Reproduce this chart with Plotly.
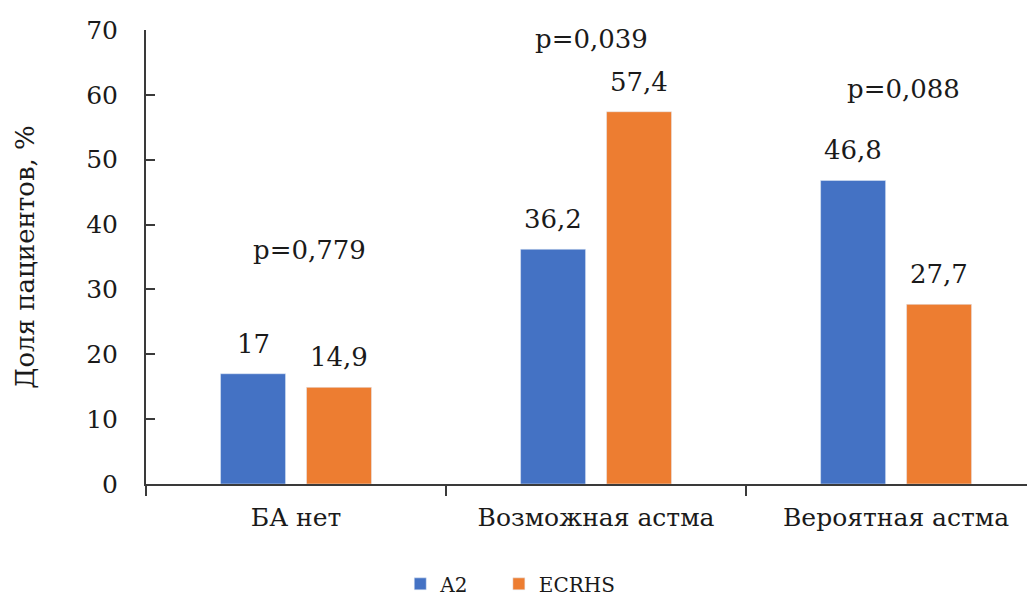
import plotly.graph_objects as go

categories = ["БА нет", "Возможная астма", "Вероятная астма"]
series_names = ["A2", "ECRHS"]
a2_values = [17, 36.2, 46.8]
ecrhs_values = [14.9, 57.4, 27.7]
a2_labels = ["17", "36,2", "46,8"]
ecrhs_labels = ["14,9", "57,4", "27,7"]
p_labels = ["p=0,779", "p=0,039", "p=0,088"]
y_ticks = [0, 10, 20, 30, 40, 50, 60, 70]

# label placement (layout, not data)
p_label_y = [34.7, 67.2, 59.5]
p_label_xshift = [13, -5, 7]

FONT = "DejaVu Serif"
TXT = "#1a1a1a"
AX = "#3a3a3a"
BLUE = "#4472C4"
ORANGE = "#ED7D31"
NBSP = "\u00a0"

fig = go.Figure()
fig.add_trace(go.Bar(name=series_names[0] + NBSP * 4, x=categories, y=a2_values, marker_color=BLUE))
fig.add_trace(go.Bar(name=series_names[1], x=categories, y=ecrhs_values, marker_color=ORANGE))

annotations = []
bar_off = 43
VAL_SIZE = 26
for i, c in enumerate(categories):
    annotations.append(dict(x=c, y=a2_values[i], text=a2_labels[i], showarrow=False,
                            xshift=-bar_off, yanchor="bottom", yshift=13,
                            font=dict(family=FONT, size=VAL_SIZE, color=TXT)))
    annotations.append(dict(x=c, y=ecrhs_values[i], text=ecrhs_labels[i], showarrow=False,
                            xshift=bar_off, yanchor="bottom", yshift=13,
                            font=dict(family=FONT, size=VAL_SIZE, color=TXT)))
    annotations.append(dict(x=c, y=p_label_y[i], text=p_labels[i], showarrow=False,
                            xshift=p_label_xshift[i], yanchor="bottom", yshift=-8,
                            font=dict(family=FONT, size=VAL_SIZE, color=TXT)))

# page body has an 8px default margin: size the figure so it fits the window
fig.update_layout(
    width=1027, height=592,
    margin=dict(l=138, r=0, t=22, b=116, autoexpand=False),
    paper_bgcolor="white", plot_bgcolor="white",
    barmode="group", bargap=0.427, bargroupgap=0.244,
    font=dict(family=FONT, size=25, color=TXT),
    showlegend=True,
    legend=dict(orientation="h", x=0.286, xanchor="left", y=-0.177, yanchor="top",
                font=dict(family=FONT, size=20, color=TXT), bgcolor="rgba(0,0,0,0)"),
    annotations=annotations,
    xaxis=dict(range=[-0.5, 2.463], showline=True, linecolor=AX, linewidth=2,
               ticks="outside", tickson="boundaries", ticklen=10, tickwidth=2, tickcolor=AX,
               showgrid=False, zeroline=False, automargin=False,
               tickfont=dict(family=FONT, size=25, color=TXT), ticklabelstandoff=10),
    yaxis=dict(range=[0, 70], tickvals=y_ticks, showline=True, linecolor=AX, linewidth=2,
               ticks="inside", ticklen=9, tickwidth=2, tickcolor=AX,
               showgrid=False, zeroline=False, automargin=False,
               tickfont=dict(family=FONT, size=25, color=TXT), ticklabelstandoff=21,
               title=dict(text="Доля пациентов, %", standoff=44,
                          font=dict(family=FONT, size=26, color=TXT))),
)

fig.write_html("out.html")
